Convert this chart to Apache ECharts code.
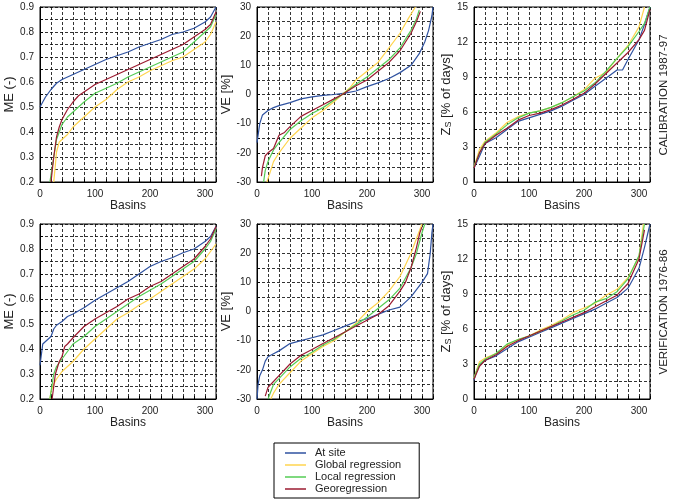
<!DOCTYPE html>
<html>
<head>
<meta charset="utf-8">
<script src="https://cdn.jsdelivr.net/npm/echarts@6/dist/echarts.min.js"></script>
<style>
  html, body { margin: 0; padding: 0; background: #fff; }
  #chart { width: 675px; height: 499px; }
</style>
</head>
<body>
<div id="chart"></div>
<script>
// series names / colours
const seriesNames = ['At site', 'Global regression', 'Local regression', 'Georegression'];
const seriesColors = ['#2f52a0', '#ffd54f', '#55cc55', '#9b1b30'];

// calibration 1987-97, ME
const calMeAtSite = [[0,0.50],[10,0.54],[20,0.57],[30,0.595],[40,0.61],[60,0.63],[80,0.65],[100,0.67],[120,0.69],[140,0.705],[160,0.72],[180,0.74],[200,0.755],[220,0.77],[240,0.79],[260,0.80],[280,0.815],[300,0.84],[310,0.86],[320,0.90]];
const calMeGlobal = [[25,0.20],[28,0.27],[30,0.32],[35,0.36],[40,0.37],[50,0.39],[60,0.42],[80,0.46],[100,0.50],[120,0.53],[140,0.57],[160,0.60],[180,0.62],[200,0.645],[220,0.665],[240,0.685],[260,0.70],[280,0.73],[300,0.76],[310,0.79],[320,0.84]];
const calMeLocal = [[18,0.20],[25,0.30],[30,0.37],[40,0.43],[50,0.46],[60,0.48],[80,0.52],[100,0.555],[120,0.575],[140,0.595],[160,0.62],[180,0.64],[200,0.66],[220,0.68],[240,0.70],[260,0.72],[280,0.76],[300,0.80],[310,0.82],[320,0.87]];
const calMeGeo = [[20,0.20],[25,0.30],[30,0.38],[35,0.42],[40,0.45],[50,0.49],[60,0.52],[70,0.545],[80,0.56],[100,0.59],[120,0.61],[140,0.63],[160,0.65],[180,0.67],[200,0.69],[220,0.71],[240,0.73],[260,0.75],[280,0.78],[300,0.81],[310,0.83],[320,0.88]];

// calibration 1987-97, VE
const calVeAtSite = [[0,-16.5],[5,-10],[10,-7],[20,-5.5],[30,-4.5],[40,-3.8],[60,-2.8],[80,-1.5],[100,-0.8],[120,-0.3],[140,0],[160,0.5],[180,1.2],[200,2.7],[220,4],[240,5.5],[260,7.5],[280,10],[295,14],[305,18],[312,22],[318,27],[320,30]];
const calVeGlobal = [[18,-30],[25,-26],[30,-23],[40,-20],[60,-15],[80,-11.5],[100,-8],[120,-5.5],[140,-2.5],[155,0],[170,2.5],[180,5],[200,8],[220,11],[240,16],[260,21],[275,26],[288,30]];
const calVeLocal = [[12,-30],[15,-26],[20,-23],[30,-19],[40,-16.5],[60,-12],[80,-9],[100,-6.5],[120,-4.5],[140,-2],[155,0],[180,3.5],[200,6],[220,9],[240,12],[260,16],[280,22],[290,26],[295,29]];
const calVeGeo = [[8,-28],[10,-25],[15,-21],[20,-20],[30,-18.5],[40,-14],[50,-13],[60,-11],[80,-7.5],[100,-5.5],[120,-3.5],[140,-1.5],[155,0],[180,3],[200,5],[220,8],[240,11],[260,15],[280,21],[290,25],[297,28.5]];

// calibration 1987-97, Zs
const calZsAtSite = [[0,1.2],[10,2.2],[20,3.3],[40,3.8],[60,4.5],[80,5.2],[100,5.5],[120,5.8],[140,6.1],[160,6.5],[180,7.0],[200,7.5],[220,8.2],[240,8.9],[260,9.6],[270,9.6],[280,10.5],[300,12.2],[310,13.5],[320,15]];
const calZsGlobal = [[0,1.3],[10,2.8],[20,3.5],[40,4.2],[60,5.1],[80,5.6],[100,5.9],[120,6.1],[140,6.4],[160,6.8],[180,7.3],[200,7.9],[220,8.9],[240,9.4],[260,10.6],[280,11.7],[300,13.3],[310,15]];
const calZsLocal = [[0,1.3],[10,2.5],[20,3.4],[40,4.1],[60,4.9],[80,5.5],[100,5.9],[120,6.1],[140,6.4],[160,6.8],[180,7.3],[200,7.8],[220,8.5],[240,9.5],[260,10.6],[280,11.6],[300,12.9],[310,13.6],[320,15]];
const calZsGeo = [[0,1.2],[10,2.5],[20,3.3],[40,4.0],[60,4.6],[80,5.3],[100,5.7],[120,5.9],[140,6.2],[160,6.6],[180,7.1],[200,7.6],[220,8.4],[240,9.3],[260,10.2],[280,11.1],[300,12.2],[310,13],[320,14.8]];

// verification 1976-86, ME
const verMeAtSite = [[0,0.335],[3,0.34],[5,0.42],[10,0.43],[20,0.45],[25,0.48],[30,0.495],[40,0.51],[50,0.53],[60,0.54],[80,0.565],[100,0.595],[120,0.62],[140,0.645],[160,0.67],[180,0.70],[200,0.73],[220,0.75],[240,0.765],[260,0.785],[280,0.80],[300,0.83],[310,0.85],[320,0.89]];
const verMeGlobal = [[18,0.20],[20,0.23],[25,0.26],[30,0.28],[40,0.31],[60,0.35],[80,0.40],[100,0.44],[120,0.48],[140,0.52],[160,0.545],[180,0.575],[200,0.60],[220,0.63],[240,0.66],[260,0.69],[280,0.72],[300,0.76],[310,0.79],[320,0.82]];
const verMeLocal = [[18,0.20],[25,0.30],[30,0.33],[40,0.36],[50,0.39],[60,0.42],[80,0.45],[100,0.49],[120,0.52],[140,0.55],[160,0.58],[180,0.61],[200,0.635],[220,0.66],[240,0.69],[260,0.72],[280,0.75],[300,0.80],[310,0.83],[320,0.88]];
const verMeGeo = [[22,0.20],[25,0.25],[28,0.30],[35,0.35],[40,0.37],[45,0.41],[50,0.42],[60,0.445],[80,0.49],[100,0.52],[120,0.545],[140,0.57],[160,0.60],[180,0.62],[200,0.65],[220,0.67],[240,0.70],[260,0.73],[280,0.76],[300,0.81],[310,0.84],[320,0.89]];

// verification 1976-86, VE
const verVeAtSite = [[0,-30],[2,-25],[5,-22],[10,-20],[15,-17],[20,-15.5],[30,-14.5],[40,-13.5],[60,-11],[80,-10],[100,-9],[120,-8],[140,-6.5],[160,-5],[180,-3.5],[200,-2.5],[220,-1],[240,0.5],[260,1.5],[280,5],[300,10],[310,13],[315,20],[318,27],[320,30]];
const verVeGlobal = [[25,-30],[30,-28],[40,-25],[60,-21],[80,-17],[100,-14.5],[120,-12],[140,-10],[160,-7],[180,-4],[200,0],[220,3],[240,7],[260,12],[280,20],[290,25],[300,30]];
const verVeLocal = [[20,-30],[30,-25],[40,-23],[60,-19],[80,-16],[100,-14],[120,-11.5],[140,-9.5],[160,-7],[180,-4.5],[200,-2],[220,1],[240,4],[260,8],[280,15],[290,20],[300,27],[305,30]];
const verVeGeo = [[15,-29],[20,-26],[30,-24],[40,-22],[60,-18],[80,-15],[100,-13],[120,-11],[140,-9],[160,-7],[180,-5],[200,-3],[220,-1],[240,2],[260,7],[270,10],[280,15],[290,22],[296,27],[300,29]];

// verification 1976-86, Zs
const verZsAtSite = [[0,1.6],[5,2.5],[10,2.9],[20,3.3],[40,3.7],[60,4.3],[80,4.9],[100,5.3],[120,5.7],[140,6.1],[160,6.5],[180,6.9],[200,7.3],[220,7.7],[240,8.2],[260,8.7],[280,9.5],[300,11.2],[310,13],[320,15]];
const verZsGlobal = [[0,1.8],[10,3.2],[20,3.5],[40,3.9],[60,4.6],[80,5.1],[100,5.4],[120,5.9],[140,6.3],[160,6.8],[180,7.4],[200,7.8],[220,8.2],[240,8.9],[260,9.4],[280,10.4],[300,12.2],[308,15]];
const verZsLocal = [[0,1.8],[10,3.0],[20,3.4],[40,3.9],[60,4.7],[80,5.1],[100,5.4],[120,5.8],[140,6.2],[160,6.7],[180,7.2],[200,7.6],[220,8.3],[240,8.6],[260,9.2],[280,10.3],[300,12.3],[310,15]];
const verZsGeo = [[0,1.7],[10,2.8],[20,3.3],[40,3.8],[60,4.5],[80,5.0],[100,5.4],[120,5.8],[140,6.2],[160,6.6],[180,7.0],[200,7.4],[220,7.9],[240,8.4],[260,8.9],[280,9.9],[300,12.0],[310,14.5]];

// panel order: cal ME, cal VE, cal Zs, ver ME, ver VE, ver Zs
const panelData = [
  [calMeAtSite, calMeGlobal, calMeLocal, calMeGeo],
  [calVeAtSite, calVeGlobal, calVeLocal, calVeGeo],
  [calZsAtSite, calZsGlobal, calZsLocal, calZsGeo],
  [verMeAtSite, verMeGlobal, verMeLocal, verMeGeo],
  [verVeAtSite, verVeGlobal, verVeLocal, verVeGeo],
  [verZsAtSite, verZsGlobal, verZsLocal, verZsGeo]
];

// y scales: min, max, grid step, label step
const yScales = [
  { min: 0.2, max: 0.9, step: 0.05, label: 0.1, dec: 1 },
  { min: -30, max: 30, step: 5, label: 10, dec: 0 },
  { min: 0, max: 15, step: 1.5, label: 3, dec: 0 }
];
const yNames = ['ME (-)', 'VE [%]', 'Z{s|S} [% of days]'];
const sideTitles = ['CALIBRATION 1987-97', 'VERIFICATION 1976-86'];

const lefts = [40, 257, 474];
const tops = [7, 224];
const nameGaps = [24, 19, 16];
const font = 'Liberation Sans, Arial, sans-serif';
const dashed = { color: '#000', type: [3, 2], width: 0.8 };

let grids = [], xAxes = [], yAxes = [], series = [];
for (let p = 0; p < 6; p++) {
  let col = p % 3, row = Math.floor(p / 3);
  let ys = yScales[col];
  grids.push({
    left: lefts[col], top: tops[row], width: 176, height: 175,
    show: true, borderColor: '#000', borderWidth: 1, backgroundColor: '#fff'
  });
  xAxes.push({
    gridIndex: p, type: 'value', min: 0, max: 320, interval: 20,
    name: 'Basins', nameLocation: 'middle', nameGap: 18,
    nameTextStyle: { fontFamily: font, fontSize: 12, color: '#222' },
    axisLine: { onZero: false, lineStyle: { color: '#000', width: 1 } },
    axisTick: { inside: true, length: 3, lineStyle: { color: '#000' } },
    axisLabel: {
      fontFamily: font, fontSize: 10, color: '#222', margin: 7,
      formatter: v => (v % 100 === 0 ? String(v) : '')
    },
    splitLine: { show: true, lineStyle: dashed }
  });
  yAxes.push({
    gridIndex: p, type: 'value', min: ys.min, max: ys.max, interval: ys.step,
    name: yNames[col], nameLocation: 'middle', nameRotate: 90,
    nameGap: nameGaps[col],
    nameTextStyle: {
      fontFamily: font, fontSize: 13, color: '#222',
      rich: { s: { fontFamily: font, fontSize: 9, color: '#222', verticalAlign: 'bottom', padding: [5, 0, 0, 0] } }
    },
    axisLine: { onZero: false, lineStyle: { color: '#000', width: 1 } },
    axisTick: { inside: true, length: 3, lineStyle: { color: '#000' } },
    axisLabel: {
      fontFamily: font, fontSize: 10, color: '#222', margin: 6,
      formatter: v => {
        let k = Math.round(v / ys.step);
        let r = Math.round(ys.label / ys.step);
        return k % r === 0 ? v.toFixed(ys.dec) : '';
      }
    },
    splitLine: { show: true, lineStyle: dashed }
  });
  panelData[p].forEach((d, i) => {
    series.push({
      name: seriesNames[i], type: 'line', xAxisIndex: p, yAxisIndex: p,
      data: d, symbol: 'none', clip: true,
      lineStyle: { color: seriesColors[i], width: 1.2 },
      itemStyle: { color: seriesColors[i] }
    });
  });
}

let chart = echarts.init(document.getElementById('chart'));
chart.setOption({
  animation: false,
  backgroundColor: '#fff',
  grid: grids,
  xAxis: xAxes,
  yAxis: yAxes,
  series: series,
  legend: {
    data: seriesNames, orient: 'vertical', left: 274, top: 443, height: 120,
    icon: 'rect', itemWidth: 21, itemHeight: 1.5, itemGap: 0,
    borderColor: '#000', borderWidth: 1, borderRadius: 0,
    padding: [4, 18, 3, 11],
    textStyle: { fontFamily: font, fontSize: 11, color: '#222', lineHeight: 12, padding: [0, 0, 0, 4] }
  },
  graphic: sideTitles.map((t, r) => ({
    type: 'text', x: 664, y: tops[r] + 88, rotation: Math.PI / 2,
    style: { text: t, font: '11.5px ' + font, fill: '#222', align: 'center', verticalAlign: 'middle' }
  }))
});
</script>
</body>
</html>
